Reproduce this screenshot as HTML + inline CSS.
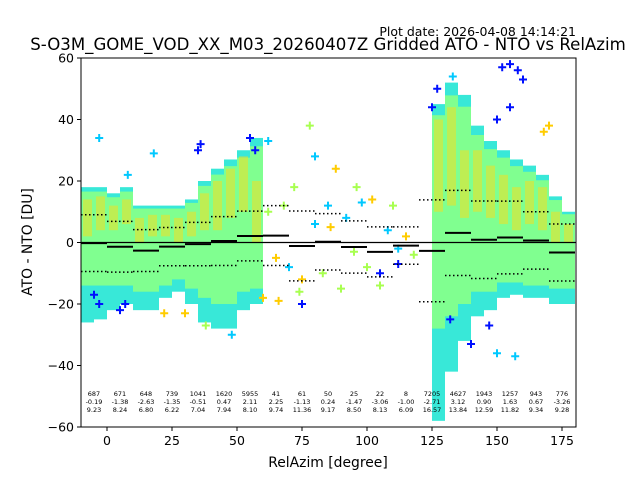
<!DOCTYPE html>
<html><head><meta charset="utf-8">
<style>
html,body{margin:0;padding:0;background:#fff;}
svg{display:block;font-family:"DejaVu Sans","Liberation Sans",sans-serif;}
</style></head>
<body>
<svg id="chart" width="640" height="480" viewBox="0 0 640 480">
<text x="576" y="36" font-size="12.5" text-anchor="end">Plot date: 2026-04-08 14:14:21</text>
<text x="328" y="50" font-size="16.6" text-anchor="middle">S-O3M_GOME_VOD_XX_M03_20260407Z Gridded ATO - NTO vs RelAzim</text>
<g id="marks"></g>
<rect x="81" y="58" width="495" height="369" fill="none" stroke="#000" stroke-width="1"/>
<g id="axes"></g>
<text x="328" y="467" font-size="13.9" text-anchor="middle">RelAzim [degree]</text>
<text transform="translate(32,242) rotate(-90)" font-size="13.9" text-anchor="middle">ATO - NTO [DU]</text>
</svg>
<script>
// ---- data ----
const xTicks = [0,25,50,75,100,125,150,175];
const yTicks = [-60,-40,-20,0,20,40,60];
const binCenters = [-5,5,15,25,35,45,55,65,75,85,95,105,115,125,135,145,155,165,175];
const binCounts = [687,671,648,739,1041,1620,5955,41,61,50,25,22,8,7205,4627,1943,1257,943,776];
const binMeans = [-0.19,-1.38,-2.63,-1.35,-0.51,0.47,2.11,2.25,-1.13,0.24,-1.47,-3.06,-1.00,-2.71,3.12,0.90,1.63,0.67,-3.26];
const binStds = [9.23,8.24,6.80,6.22,7.04,7.94,8.10,9.74,11.36,9.17,8.50,8.13,6.09,16.57,13.84,12.59,11.82,9.34,9.28];
// point-cloud envelopes (5-degree columns)
const colStarts = [-10,-5,0,5,10,15,20,25,30,35,40,45,50,55,125,130,135,140,145,150,155,160,165,170,175];
const colTops = [18,18,16,18,12,12,12,12,14,20,24,27,30,34,45,52,48,38,33,30,27,25,22,15,10];
const colBottoms = [-26,-25,-22,-20,-22,-22,-18,-16,-20,-26,-28,-28,-22,-20,-58,-42,-32,-24,-22,-18,-17,-18,-18,-20,-20];
const colYellowTops = [14,15,12,14,8,9,9,8,10,16,20,24,28,20,40,44,30,30,25,22,18,20,18,10,6];
const colYellowBottoms = [2,4,4,6,0,2,2,0,2,4,4,8,10,0,10,12,8,10,8,6,4,6,4,0,0];
const colCyanBottoms = [-14,-14,-14,-14,-16,-16,-14,-12,-15,-18,-20,-20,-16,-15,-28,-24,-20,-16,-16,-13,-13,-14,-14,-15,-15];
const pointX = [-5,-3,5,7,35,36,55,57,127,125,150,152,155,158,160,155,140,147,75,105,112,132,-3,8,18,62,80,133,150,157,62,65,68,70,72,75,78,80,83,85,88,90,92,95,98,100,102,105,108,110,112,115,118,60,66,74,86,96,168,170,38,48,22,30];
const pointY = [-17,-20,-22,-20,30,32,34,30,50,44,40,57,58,56,53,44,-33,-27,-20,-10,-7,-25,34,22,29,33,28,54,-36,-37,10,-5,12,-8,18,-12,38,6,-10,12,24,-15,8,-3,13,-8,14,-14,4,12,-2,2,-4,-18,-19,-16,5,18,36,38,-27,-30,-23,-23];
const pointC = [0,0,0,0,0,0,0,0,0,0,0,0,0,0,0,0,0,0,0,0,0,0,1,1,1,1,1,1,1,1,2,3,2,1,2,3,2,1,2,1,3,2,1,2,1,2,3,2,1,2,1,3,2,3,3,2,3,2,3,3,2,1,3,3];
// ---- scales ----
const X = v => 107 + (v) * 2.6;
const Y = v => 242.5 - v * 3.075;
const NS = "http://www.w3.org/2000/svg";
const marks = document.getElementById('marks');
const axes = document.getElementById('axes');
function mk(tag, attrs, parent){const e=document.createElementNS(NS,tag);for(const k in attrs)e.setAttribute(k,attrs[k]);parent.appendChild(e);return e;}
const clip = mk('clipPath',{id:'pc'},marks); mk('rect',{x:81,y:58,width:495,height:369},clip);
const g = mk('g',{'clip-path':'url(#pc)'},marks);
// cloud columns
for(let i=0;i<colStarts.length;i++){
  const x0=X(colStarts[i]), w=5*2.6;
  const c1=mk('rect',{x:x0,y:Y(colTops[i]),width:w,height:Y(colBottoms[i])-Y(colTops[i]),fill:'#38e8d8'},g);
  
  
  const c2=mk('rect',{x:x0,y:Y(colTops[i]*0.92),width:w,height:Y(colCyanBottoms[i])-Y(colTops[i]*0.92),fill:'#80ff90'},g);
  
  
  const c3=mk('rect',{x:x0+2,y:Y(colYellowTops[i]),width:w-4,height:Y(colYellowBottoms[i])-Y(colYellowTops[i]),fill:'#f0e020',opacity:0.55},g);
  
  
}
// outlier points
const pcols=['#0010ff','#00c8ff','#a8ff50','#ffcc00'];
for(let i=0;i<pointX.length;i++){
  const px=X(pointX[i]), py=Y(pointY[i]);
  const p=mk('path',{d:`M${px-4},${py}H${px+4}M${px},${py-4}V${py+4}`,stroke:pcols[pointC[i]],'stroke-width':2},g);
  
  
}
// zero line
const z=mk('line',{x1:81,x2:576,y1:Y(0),y2:Y(0),stroke:'#000','stroke-width':1.2},g);


// mean / std
for(let i=0;i<binCenters.length;i++){
  const x1=X(binCenters[i]-5), x2=X(binCenters[i]+5);
  const m=mk('line',{x1,x2,y1:Y(binMeans[i]),y2:Y(binMeans[i]),stroke:'#000','stroke-width':2},g);
  
  
  for(const s of [1,-1]){
    const d=mk('line',{x1,x2,y1:Y(binMeans[i]+s*binStds[i]),y2:Y(binMeans[i]+s*binStds[i]),stroke:'#000','stroke-width':1.5,'stroke-dasharray':'1.5,2.5'},g);
    
    
  }
  const t=mk('text',{x:X(binCenters[i]),y:396,'font-size':6.5,'text-anchor':'middle'},marks);
  
  
  [binCounts[i],binMeans[i].toFixed(2),binStds[i].toFixed(2)].forEach((s,k)=>{const ts=mk('tspan',{x:X(binCenters[i]),dy:k?8:0},t);ts.textContent=s;});
}
// ticks
xTicks.forEach(v=>{
  mk('line',{x1:X(v),x2:X(v),y1:427,y2:431,stroke:'#000'},axes);
  const t=mk('text',{x:X(v),y:445,'font-size':12.5,'text-anchor':'middle'},axes);
  
  
  t.textContent=v;
});
yTicks.forEach(v=>{
  mk('line',{x1:77,x2:81,y1:Y(v),y2:Y(v),stroke:'#000'},axes);
  const t=mk('text',{x:74,y:Y(v)+4.5,'font-size':12.5,'text-anchor':'end'},axes);
  
  
  t.textContent=v<0?'\u2212'+(-v):v;
});
</script>
</body></html>
